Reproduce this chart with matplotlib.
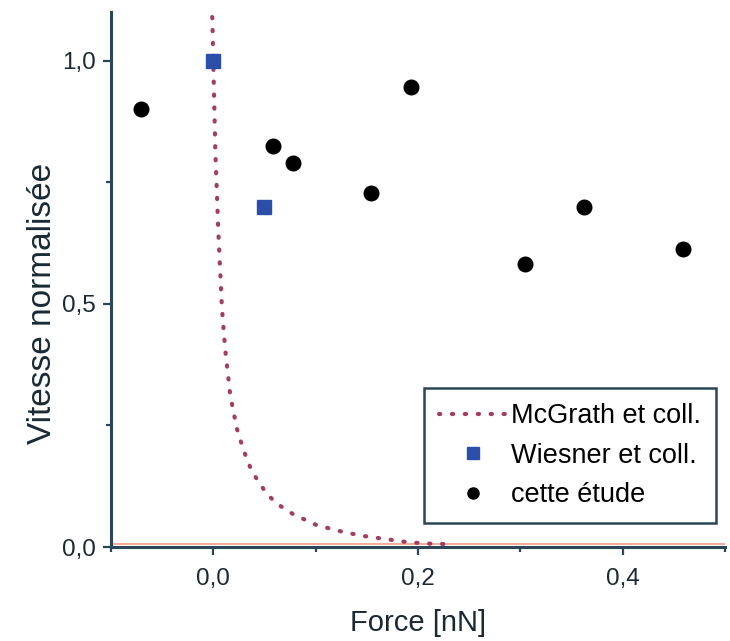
import matplotlib
matplotlib.use("Agg")
import matplotlib.pyplot as plt
from matplotlib.ticker import MultipleLocator, FuncFormatter

# McGrath et coll. (curve)
mcgrath_force = [-0.001, 0.0, 0.002, 0.005, 0.0085, 0.0117, 0.0166, 0.023, 0.0296,
                 0.0378, 0.0517, 0.0615, 0.0777, 0.101, 0.127, 0.146, 0.191, 0.211, 0.229]
mcgrath_speed = [1.09, 1.0, 0.815, 0.645, 0.49, 0.405, 0.312, 0.244, 0.199,
                 0.155, 0.111, 0.09, 0.068, 0.045, 0.031, 0.023, 0.0097, 0.007, 0.006]

# Wiesner et coll.
wiesner_force = [0.0, 0.05]
wiesner_speed = [1.0, 0.70]

# cette étude
etude_force = [-0.071, 0.058, 0.078, 0.154, 0.193, 0.305, 0.362, 0.459]
etude_speed = [0.90, 0.825, 0.79, 0.729, 0.947, 0.583, 0.70, 0.612]

plt.rcParams["font.family"] = ["Liberation Sans", "DejaVu Sans"]
axis_col = "#2b4656"
text_col = "#1a2a34"

fig = plt.figure(figsize=(7.30, 6.41), dpi=100)
ax = fig.add_axes([0.152, 0.1466, 0.841, 0.8344])

ax.axhline(0.006, color="#f4a58f", lw=1.3, zorder=1)
ax.plot(mcgrath_force, mcgrath_speed, color="#a23e62", lw=3.0,
        linestyle=(0, (0.3, 2.8)), dash_capstyle="round", label="McGrath et coll.", zorder=2)
ax.plot(wiesner_force, wiesner_speed, "s", color="#2b4ea8", ms=10,
        label="Wiesner et coll.", zorder=3)
ax.plot(etude_force, etude_speed, "o", color="black", ms=10.5,
        label="cette étude", zorder=3)

ax.set_xlim(-0.1, 0.5)
ax.set_ylim(0, 1.1)
ax.xaxis.set_major_locator(MultipleLocator(0.2))
ax.xaxis.set_minor_locator(MultipleLocator(0.1))
ax.yaxis.set_major_locator(MultipleLocator(0.5))
ax.yaxis.set_minor_locator(MultipleLocator(0.25))
comma = FuncFormatter(lambda v, p: f"{v:.1f}".replace(".", ",").replace("-0,0", "0,0"))
ax.xaxis.set_major_formatter(comma)
ax.yaxis.set_major_formatter(comma)

for side in ["top", "right"]:
    ax.spines[side].set_visible(False)
for side in ["left", "bottom"]:
    ax.spines[side].set_color(axis_col)
    ax.spines[side].set_linewidth(2.2)

ax.tick_params(which="both", direction="out", color=axis_col, width=1.6, labelsize=17.5,
               labelcolor=text_col)
ax.tick_params(axis="x", which="major", length=6, pad=9)
ax.tick_params(axis="y", which="major", length=6, pad=5)
ax.tick_params(which="minor", length=3.5)

ax.set_xlabel("Force [nN]", fontsize=21, color=text_col)
ax.set_ylabel("Vitesse normalisée", fontsize=24, color=text_col)
ax.xaxis.set_label_coords(0.5, -0.116)
ax.yaxis.set_label_coords(-0.086, 0.456)

leg = ax.legend(loc="lower right", bbox_to_anchor=(0.985, 0.045), fontsize=19.5,
                fancybox=False, framealpha=1, edgecolor=axis_col, handlelength=2.5,
                handletextpad=0.15, labelspacing=0.5, borderpad=0.55, borderaxespad=0)
leg.get_frame().set_linewidth(1.8)
for h in leg.legend_handles[1:]:
    h.set_markersize(8)

fig.savefig("out.png", dpi=100, facecolor="white")
